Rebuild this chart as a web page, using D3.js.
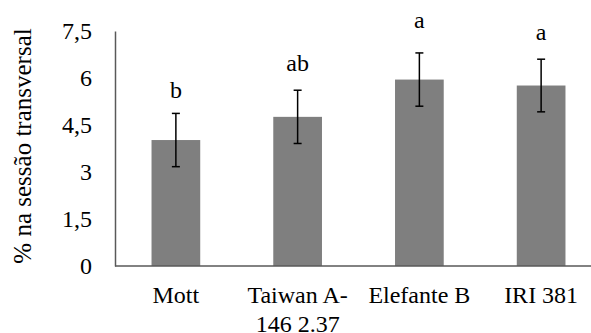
<!DOCTYPE html>
<html>
<head>
<meta charset="utf-8">
<script src="https://cdn.jsdelivr.net/npm/d3@7"></script>
<style>
  html, body { margin: 0; padding: 0; background: #fff; }
  svg { display: block; }
  svg text, svg tspan { font-family: "Liberation Serif" !important; fill: #000; }
  .s24 { font-size: 24px; }
  .s25 { font-size: 25px; }
</style>
</head>
<body>
<svg id="chart" width="591" height="333"></svg>
<script>
// Cultivars (second line of a label follows "\n")
const categories = ["Mott", "Taiwan A-\n146 2.37", "Elefante B", "IRI 381"];
// Mean percentage in the cross section
const means = [4.02, 4.76, 5.95, 5.76];
// Standard error of each mean
const errors = [0.85, 0.85, 0.85, 0.84];
// Significance letters and the height (in axis units) where each one sits
const letters = ["b", "ab", "a", "a"];
const letterAt = [5.35, 6.23, 7.59, 7.21];
// Y-axis ticks
const yTicks = [0, 1.5, 3, 4.5, 6, 7.5];
const yTitle = "% na sessão transversal";

const svg = d3.select("#chart");
const plot = { left: 115, right: 602, top: 31, bottom: 266 };

const x = d3.scaleBand()
  .domain(categories)
  .range([plot.left, plot.right])
  .paddingInner(0.6)
  .paddingOuter(0.3);

const y = d3.scaleLinear().domain([0, 7.5]).range([plot.bottom, plot.top]);

const fmt = v => String(v).replace(".", ",");

// Bars
svg.append("g").selectAll("rect")
  .data(categories)
  .join("rect")
  .attr("x", d => x(d))
  .attr("width", x.bandwidth())
  .attr("y", (d, i) => y(means[i]))
  .attr("height", (d, i) => y(0) - y(means[i]))
  .attr("fill", "#7f7f7f");

// Error bars
const eb = svg.append("g").attr("stroke", "#000").attr("stroke-width", 1.5);
categories.forEach((c, i) => {
  const cx = x(c) + x.bandwidth() / 2;
  const hi = y(means[i] + errors[i]), lo = y(means[i] - errors[i]);
  eb.append("line").attr("x1", cx).attr("x2", cx).attr("y1", hi).attr("y2", lo);
  eb.append("line").attr("x1", cx - 4).attr("x2", cx + 4).attr("y1", hi).attr("y2", hi);
  eb.append("line").attr("x1", cx - 4).attr("x2", cx + 4).attr("y1", lo).attr("y2", lo);
});

// Significance letters
svg.append("g").selectAll("text")
  .data(categories)
  .join("text")
  .attr("class", "s24")
  .attr("x", d => x(d) + x.bandwidth() / 2)
  .attr("y", (d, i) => y(letterAt[i]))
  .attr("text-anchor", "middle")
  .text((d, i) => letters[i]);

// Y axis (line plus labels, no tick marks)
const yAxis = svg.append("g")
  .attr("transform", `translate(${plot.left},0)`)
  .call(d3.axisLeft(y).tickValues(yTicks).tickFormat(fmt).tickSize(0).tickPadding(23));
yAxis.attr("font-family", null).attr("font-size", null);
yAxis.select(".domain").attr("stroke", "#595959").attr("stroke-width", 1.5);
yAxis.selectAll(".tick text").attr("class", "s24");

// X axis baseline
svg.append("line")
  .attr("x1", plot.left).attr("x2", 591)
  .attr("y1", y(0)).attr("y2", y(0))
  .attr("stroke", "#595959").attr("stroke-width", 1.5);

// Category labels
const xl = svg.append("g").selectAll("text")
  .data(categories)
  .join("text")
  .attr("class", "s24")
  .attr("x", d => x(d) + x.bandwidth() / 2)
  .attr("y", 303)
  .attr("text-anchor", "middle");
xl.each(function (d) {
  const t = d3.select(this);
  const cx = x(d) + x.bandwidth() / 2;
  d.split("\n").forEach((line, k) => {
    t.append("tspan").attr("x", cx).attr("dy", k === 0 ? 0 : 29).text(line);
  });
});

// Y axis title
svg.append("text")
  .attr("class", "s25")
  .attr("transform", "translate(31,146) rotate(-90)")
  .attr("text-anchor", "middle")
  .text(yTitle);
</script>
</body>
</html>
